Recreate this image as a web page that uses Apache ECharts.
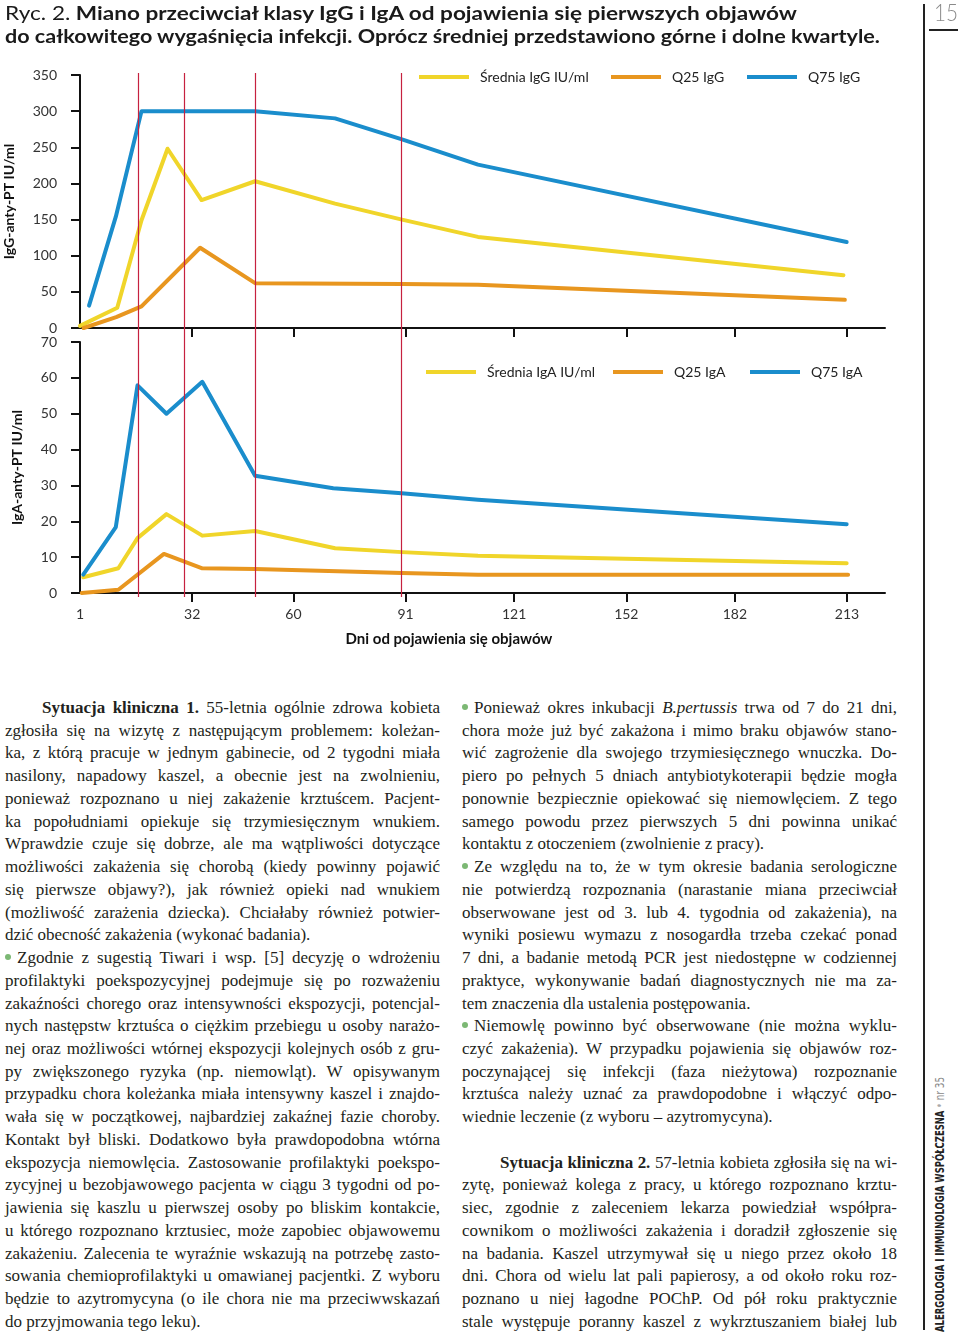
<!DOCTYPE html>
<html><head><meta charset="utf-8">
<script src="https://cdn.jsdelivr.net/npm/echarts@6/dist/echarts.min.js"></script>
<style>
html,body{margin:0;padding:0;background:#fff;width:960px;height:1334px;overflow:hidden;}
#chart{position:absolute;left:0;top:0;width:960px;height:660px;}
.title{position:absolute;left:5px;font-family:Lato,sans-serif;font-weight:700;font-size:19px;line-height:23px;color:#1a1a1a;white-space:nowrap;transform-origin:0 50%;}
.title .lt{font-weight:400;}
.col{position:absolute;top:697px;width:435px;font-family:'Liberation Serif',serif;font-size:17px;line-height:22.74px;color:#231f20;}
.col div{height:22.74px;text-align:justify;text-align-last:justify;}
.col div.l{text-align:left;text-align-last:left;}
.dot{display:inline-block;width:6px;height:6px;border-radius:3px;background:#7cb874;margin-right:6px;vertical-align:3px;}
#vline{position:absolute;left:923px;top:4px;width:1.5px;height:1326px;background:#222;}
#pnum{position:absolute;left:934px;top:0px;font-family:Lato,sans-serif;font-weight:300;font-size:24px;line-height:24px;color:#8a8a8a;transform-origin:0 0;}
#uline{position:absolute;left:929px;top:29px;width:29px;height:2px;background:#222;}
#side{position:absolute;left:934px;top:1332px;white-space:nowrap;font-family:'Liberation Sans Narrow','DejaVu Sans Condensed',sans-serif;font-size:12.5px;line-height:12px;transform-origin:0 0;color:#222;}
#side b{font-weight:700;}
#side .g1{color:#aaa;}
#side .g2{color:#888;font-size:13px;}
</style></head>
<body>
<div id="chart"></div>
<div class="title" id="t1" style="top:1px"><span class="lt">Ryc. 2.</span> Miano przeciwciał klasy IgG i IgA od pojawienia się pierwszych objawów</div>
<div class="title" id="t2" style="top:24px">do całkowitego wygaśnięcia infekcji. Oprócz średniej przedstawiono górne i dolne kwartyle.</div>
<div id="vline"></div>
<div id="pnum">15</div>
<div id="uline"></div>
<div id="side"><b>ALERGOLOGIA I IMMUNOLOGIA WSPÓŁCZESNA</b> <span class="g1">•</span> <span class="g2">nr 35</span></div>

<div class="col" style="left:5px">
<div style="padding-left:37px"><b>Sytuacja kliniczna 1.</b> 55-letnia ogólnie zdrowa kobieta</div>
<div>zgłosiła się na wizytę z następującym problemem: koleżan-</div>
<div>ka, z którą pracuje w jednym gabinecie, od 2 tygodni miała</div>
<div>nasilony, napadowy kaszel, a obecnie jest na zwolnieniu,</div>
<div>ponieważ rozpoznano u niej zakażenie krztuścem. Pacjent-</div>
<div>ka popołudniami opiekuje się trzymiesięcznym wnukiem.</div>
<div>Wprawdzie czuje się dobrze, ale ma wątpliwości dotyczące</div>
<div>możliwości zakażenia się chorobą (kiedy powinny pojawić</div>
<div>się pierwsze objawy?), jak również opieki nad wnukiem</div>
<div>(możliwość zarażenia dziecka). Chciałaby również potwier-</div>
<div class="l">dzić obecność zakażenia (wykonać badania).</div>
<div><span class="dot"></span>Zgodnie z sugestią Tiwari i wsp. [5] decyzję o wdrożeniu</div>
<div>profilaktyki poekspozycyjnej podejmuje się po rozważeniu</div>
<div>zakaźności chorego oraz intensywności ekspozycji, potencjal-</div>
<div>nych następstw krztuśca o ciężkim przebiegu u osoby narażo-</div>
<div>nej oraz możliwości wtórnej ekspozycji kolejnych osób z gru-</div>
<div>py zwiększonego ryzyka (np. niemowląt). W opisywanym</div>
<div>przypadku chora koleżanka miała intensywny kaszel i znajdo-</div>
<div>wała się w początkowej, najbardziej zakaźnej fazie choroby.</div>
<div>Kontakt był bliski. Dodatkowo była prawdopodobna wtórna</div>
<div>ekspozycja niemowlęcia. Zastosowanie profilaktyki poekspo-</div>
<div>zycyjnej u bezobjawowego pacjenta w ciągu 3 tygodni od po-</div>
<div>jawienia się kaszlu u pierwszej osoby po bliskim kontakcie,</div>
<div>u którego rozpoznano krztusiec, może zapobiec objawowemu</div>
<div>zakażeniu. Zalecenia te wyraźnie wskazują na potrzebę zasto-</div>
<div>sowania chemioprofilaktyki u omawianej pacjentki. Z wyboru</div>
<div>będzie to azytromycyna (o ile chora nie ma przeciwwskazań</div>
<div class="l">do przyjmowania tego leku).</div>
</div>

<div class="col" style="left:462px">
<div><span class="dot"></span>Ponieważ okres inkubacji <i>B.pertussis</i> trwa od 7 do 21 dni,</div>
<div>chora może już być zakażona i mimo braku objawów stano-</div>
<div>wić zagrożenie dla swojego trzymiesięcznego wnuczka. Do-</div>
<div>piero po pełnych 5 dniach antybiotykoterapii będzie mogła</div>
<div>ponownie bezpiecznie opiekować się niemowlęciem. Z tego</div>
<div>samego powodu przez pierwszych 5 dni powinna unikać</div>
<div class="l">kontaktu z otoczeniem (zwolnienie z pracy).</div>
<div><span class="dot"></span>Ze względu na to, że w tym okresie badania serologiczne</div>
<div>nie potwierdzą rozpoznania (narastanie miana przeciwciał</div>
<div>obserwowane jest od 3. lub 4. tygodnia od zakażenia), na</div>
<div>wyniki posiewu wymazu z nosogardła trzeba czekać ponad</div>
<div>7 dni, a badanie metodą PCR jest niedostępne w codziennej</div>
<div>praktyce, wykonywanie badań diagnostycznych nie ma za-</div>
<div class="l">tem znaczenia dla ustalenia postępowania.</div>
<div><span class="dot"></span>Niemowlę powinno być obserwowane (nie można wyklu-</div>
<div>czyć zakażenia). W przypadku pojawienia się objawów roz-</div>
<div>poczynającej się infekcji (faza nieżytowa) rozpoznanie</div>
<div>krztuśca należy uznać za prawdopodobne i włączyć odpo-</div>
<div class="l">wiednie leczenie (z wyboru – azytromycyna).</div>
<div class="l"></div>
<div style="padding-left:38px"><b>Sytuacja kliniczna 2.</b> 57-letnia kobieta zgłosiła się na wi-</div>
<div>zytę, ponieważ kolega z pracy, u którego rozpoznano krztu-</div>
<div>siec, zgodnie z zaleceniem lekarza powiedział współpra-</div>
<div>cownikom o możliwości zakażenia i doradził zgłoszenie się</div>
<div>na badania. Kaszel utrzymywał się u niego przez około 18</div>
<div>dni. Chora od wielu lat pali papierosy, a od około roku roz-</div>
<div>poznano u niej łagodne POChP. Od pół roku praktycznie</div>
<div>stale występuje poranny kaszel z wykrztuszaniem białej lub</div>
</div>

<script>
// ---- data ----
const dayTicks = [1, 32, 60, 91, 121, 152, 182, 213];
const markerDays = [17, 29.7, 49.4, 89.9];

const meanIgGDays = [1, 11.3, 18, 25.2, 34.6, 49.4, 71.5, 90, 111, 212];
const meanIgG     = [3, 28, 149, 248, 177, 203, 172, 150, 126, 73];
const q25IgGDays  = [2, 11, 18, 34.2, 49.4, 90, 111, 212.4];
const q25IgG      = [0, 15, 30, 111, 62, 61, 60, 39];
const q75IgGDays  = [3.5, 10.9, 18, 49.4, 71.5, 90, 111, 212.9];
const q75IgG      = [31, 154, 300, 300, 290, 261, 226, 119];

const meanIgADays = [1.9, 11.6, 16.9, 24.9, 34.8, 49.4, 71.5, 90, 111, 212.9];
const meanIgA     = [4.4, 6.9, 15.3, 22, 16, 17.3, 12.5, 11.4, 10.4, 8.3];
const q25IgADays  = [1.5, 11.6, 24.2, 34.8, 49.4, 90, 111, 213.3];
const q25IgA      = [0, 0.9, 10.9, 6.9, 6.7, 5.6, 5.1, 5.1];
const q75IgADays  = [1.9, 10.9, 16.9, 24.9, 34.8, 49.4, 71, 89.9, 111, 212.9];
const q75IgA      = [5.1, 18.4, 57.9, 50, 58.9, 32.7, 29.2, 27.8, 26, 19.2];

const seriesNames = {
  meanG: 'Średnia IgG IU/ml', q25G: 'Q25 IgG', q75G: 'Q75 IgG',
  meanA: 'Średnia IgA IU/ml', q25A: 'Q25 IgA', q75A: 'Q75 IgA'
};
const axisNames = { yG: 'IgG-anty-PT IU/ml', yA: 'IgA-anty-PT IU/ml', x: 'Dni od pojawienia się objawów' };

// ---- chart ----
const YELLOW = '#f0d52a', ORANGE = '#e8961f', BLUE = '#1a8dcc', RED = '#c6213f';
const FONT = 'Lato';
const zip = (xs, ys) => xs.map((x, i) => [x, ys[i]]);

const chart = echarts.init(document.getElementById('chart'), null, { renderer: 'canvas' });

const axisLine = { show: true, lineStyle: { color: '#111', width: 2 } };
const tickStyle = { color: '#111', width: 2 };
const labelStyle = { fontFamily: FONT, fontSize: 14, color: '#333' };

function xAxis(grid, withLabels) {
  return {
    type: 'value', gridIndex: grid, min: 1, max: 223.5,
    axisLine: axisLine,
    axisTick: { show: true, length: 9, inside: false, lineStyle: tickStyle, customValues: dayTicks.slice(1) },
    axisLabel: withLabels ? Object.assign({ show: true, margin: 14, customValues: dayTicks }, labelStyle) : { show: false },
    splitLine: { show: false }
  };
}
function yAxis(grid, max, interval, name, gap) {
  return {
    type: 'value', gridIndex: grid, min: 0, max: max, interval: interval,
    axisLine: axisLine,
    axisTick: { show: true, length: 9, inside: false, lineStyle: tickStyle },
    axisLabel: Object.assign({ margin: 23 }, labelStyle),
    splitLine: { show: false },
    name: name, nameLocation: 'middle', nameGap: gap,
    nameTextStyle: { fontFamily: FONT, fontWeight: 'bold', fontSize: 14, color: '#111' }
  };
}
function line(name, xi, data, color) {
  return {
    type: 'line', name: name, xAxisIndex: xi, yAxisIndex: xi, data: data,
    symbol: 'none', showSymbol: false, silent: true, z: 3,
    lineStyle: { width: 4, color: color, cap: 'round', join: 'round' },
    itemStyle: { color: color }
  };
}
function legend(name, left, top) {
  return {
    data: [name], left: left, top: top, padding: 0, icon: 'rect',
    itemWidth: 50, itemHeight: 4, selectedMode: false,
    textStyle: { fontFamily: FONT, fontSize: 14, color: '#222', padding: [0, 0, 0, 6] }
  };
}

chart.setOption({
  animation: false,
  grid: [
    { left: 80, top: 75, width: 805, height: 253, outerBoundsMode: 'none', containLabel: false },
    { left: 80, top: 342, width: 805, height: 251, outerBoundsMode: 'none', containLabel: false },
    { left: 80, top: 73, width: 805, height: 524, outerBoundsMode: 'none', containLabel: false }
  ],
  xAxis: [
    xAxis(0, false), xAxis(1, true),
    { type: 'value', gridIndex: 2, min: 1, max: 223.5, show: false }
  ],
  yAxis: [
    yAxis(0, 350, 50, axisNames.yG, 64),
    yAxis(1, 70, 10, axisNames.yA, 56),
    { type: 'value', gridIndex: 2, min: 0, max: 1, show: false }
  ],
  legend: [
    legend(seriesNames.meanG, 419, 70), legend(seriesNames.q25G, 611, 70), legend(seriesNames.q75G, 747, 70),
    legend(seriesNames.meanA, 426, 365), legend(seriesNames.q25A, 613, 365), legend(seriesNames.q75A, 750, 365)
  ],
  graphic: [{
    type: 'text', x: 449, y: 639,
    style: { text: axisNames.x, font: 'bold 15px Lato', fill: '#111', textAlign: 'center', textVerticalAlign: 'middle' }
  }],
  series: [
    {
      type: 'line', xAxisIndex: 2, yAxisIndex: 2, data: [], z: 1, silent: true,
      markLine: {
        silent: true, symbol: 'none', label: { show: false },
        lineStyle: { color: RED, width: 1.2, type: 'solid' },
        data: markerDays.map(d => ({ xAxis: d }))
      }
    },
    line(seriesNames.meanG, 0, zip(meanIgGDays, meanIgG), YELLOW),
    line(seriesNames.q25G, 0, zip(q25IgGDays, q25IgG), ORANGE),
    line(seriesNames.q75G, 0, zip(q75IgGDays, q75IgG), BLUE),
    line(seriesNames.meanA, 1, zip(meanIgADays, meanIgA), YELLOW),
    line(seriesNames.q25A, 1, zip(q25IgADays, q25IgA), ORANGE),
    line(seriesNames.q75A, 1, zip(q75IgADays, q75IgA), BLUE)
  ]
});

// fit title lines, page number and sidebar text to their measured spans
function fit(id, target, rot) {
  const el = document.getElementById(id);
  const w = el.getBoundingClientRect().width;
  const s = target / w;
  el.style.transform = (rot ? 'rotate(-90deg) ' : '') + 'scaleX(' + s + ')';
}
fit('t1', 792, false);
fit('t2', 875, false);
fit('pnum', 24, false);
fit('side', 255, true);

// keep every typeset line on one line: tighten letter-spacing if a line wraps
document.querySelectorAll('.col div').forEach(d => {
  let ls = 0;
  while (d.scrollHeight > 24 && ls > -1.5) {
    ls -= 0.05;
    d.style.letterSpacing = ls.toFixed(2) + 'px';
  }
});
</script>
</body></html>
